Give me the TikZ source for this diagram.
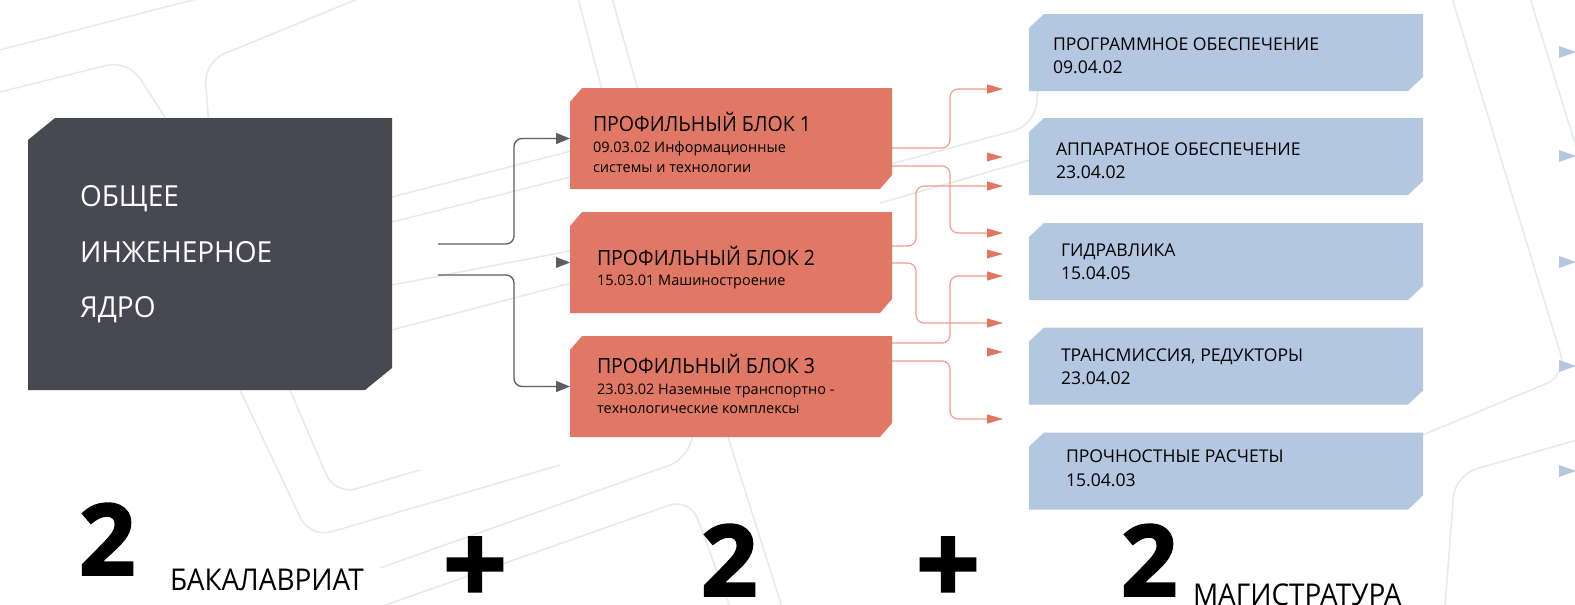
\documentclass[tikz,border=0pt]{standalone}
\usepackage{fontspec}
\setmainfont{Open Sans}
\newfontfamily\narrowfont[FakeStretch=0.93]{Open Sans}
\newfontfamily\corefont[FakeStretch=0.965]{Open Sans}
\newfontfamily\heavyfont[BoldFeatures={FakeBold=2}]{Open Sans}
\usetikzlibrary{arrows.meta}
\definecolor{darkbox}{HTML}{484852}
\definecolor{redbox}{HTML}{E07865}
\definecolor{bluebox}{HTML}{B4C7E1}
\definecolor{darkline}{HTML}{5C5D68}
\definecolor{redline}{HTML}{EE9E8C}
\definecolor{redtip}{HTML}{E27660}
\definecolor{bgline}{HTML}{E6E9ED}
\newcommand\chamferfill[4]{%
  \fill[#2] ([yshift=-#4pt]#1.north west) -- ([xshift=#3pt]#1.north west) -- (#1.north east)
    -- ([yshift=#4pt]#1.south east) -- ([xshift=-#3pt]#1.south east) -- (#1.south west) -- cycle;}
\begin{document}
\begin{tikzpicture}[x=1pt,y=-1pt,
  area/.style={rectangle,draw=none,fill=none,inner sep=0pt,outer sep=0pt},
  txt/.style={anchor=base west,inner sep=0pt,outer sep=0pt},
  coretxt/.style={txt,text=white,font=\corefont\fontsize{29}{29}\selectfont},
  redtitle/.style={txt,font=\narrowfont\fontsize{21}{21}\selectfont},
  redsub/.style={txt,font=\fontsize{14.5}{14.5}\selectfont},
  bluetxt/.style={txt,font=\fontsize{17.6}{17.6}\selectfont},
  bignum/.style={txt,font=\heavyfont\bfseries\fontsize{99}{99}\selectfont},
  bigplus/.style={txt,font=\heavyfont\bfseries\fontsize{112}{112}\selectfont},
  levtxt/.style={txt,font=\narrowfont\fontsize{30}{30}\selectfont},
  darkconn/.style={draw=darkline,line width=1.3pt,rounded corners=8pt,-{Triangle[length=14pt,width=11pt]}},
  redconn/.style={draw=redline,line width=1.2pt,rounded corners=8pt,-{Triangle[length=16pt,width=9pt,color=redtip]}},
  bgstroke/.style={draw=bgline,line width=1.5pt,rounded corners=22pt}
]
\useasboundingbox (0,0) rectangle (1575,605);
\fill[white] (0,0) rectangle (1575,605);
% background pattern
\path[bgstroke] (0,50) -- (200,-2);
\path[bgstroke] (0,92) -- (128,60) -- (170,125);
\path[bgstroke] (209,125) -- (204,62) -- (360,-2);
\path[bgstroke] (578,-2) -- (602,90);
\path[bgstroke] (612,-2) -- (638,90);
\path[bgstroke] (392,197) -- (575,150);
\path[bgstroke] (392,222) -- (575,176);
\path[bgstroke] (392,285) -- (575,250);
\path[bgstroke] (392,330) -- (575,282);
\path[bgstroke] (880,167) -- (1035,125) -- (1040,60);
\path[bgstroke] (880,203) -- (1030,160);
\path[bgstroke] (240,390) -- (310,538) -- (560,465);
\path[bgstroke] (290,390) -- (335,495) -- (420,470);
\path[bgstroke] (692,437) -- (690,458) -- (380,568);
\path[bgstroke] (380,607) -- (690,498) -- (730,607);
\path[bgstroke] (728,437) -- (782,607);
\path[bgstroke] (1452,-2) -- (1567,375) -- (1420,436);
\path[bgstroke] (1530,-2) -- (1577,150);
\path[bgstroke] (1577,440) -- (1455,475) -- (1445,607);
% box areas
\node[area,minimum width=364pt,minimum height=272pt] (core) at (210,254) {};
\node[area,minimum width=322pt,minimum height=101pt] (b1) at (731,138.5) {};
\node[area,minimum width=322pt,minimum height=101pt] (b2) at (731,262.5) {};
\node[area,minimum width=322pt,minimum height=101pt] (b3) at (731,386.5) {};
\node[area,minimum width=394pt,minimum height=77pt] (p1) at (1226,52.5) {};
\node[area,minimum width=394pt,minimum height=77pt] (p2) at (1226,156.5) {};
\node[area,minimum width=394pt,minimum height=77pt] (p3) at (1226,261.5) {};
\node[area,minimum width=394pt,minimum height=77pt] (p4) at (1226,366) {};
\node[area,minimum width=394pt,minimum height=77pt] (p5) at (1226,471) {};
\chamferfill{core}{darkbox}{27}{22}
\chamferfill{b1}{redbox}{12}{14}
\chamferfill{b2}{redbox}{12}{14}
\chamferfill{b3}{redbox}{12}{14}
\chamferfill{p1}{bluebox}{15}{14}
\chamferfill{p2}{bluebox}{15}{14}
\chamferfill{p3}{bluebox}{15}{14}
\chamferfill{p4}{bluebox}{15}{14}
\chamferfill{p5}{bluebox}{15}{14}
% dark connectors
\coordinate (d1) at (438,244);
\coordinate (d2) at (438,275);
\draw[darkconn] (d1) -| ([xshift=-56pt]b1.west) -- (b1.west);
\draw[darkconn] (d2) -| ([xshift=-56pt]b3.west) -- (b3.west);
\fill[darkline] (b2.west) -- ++(-14,-5.5) -- ++(0,11) -- cycle;
% red connectors
\coordinate (t1) at (1003,89);
\coordinate (t2) at (1003,157);
\coordinate (t3) at (1003,186);
\coordinate (t4) at (1003,233);
\coordinate (t5) at (1003,254);
\coordinate (t6) at (1003,276);
\coordinate (t7) at (1003,323);
\coordinate (t8) at (1003,352);
\coordinate (t9) at (1003,419);
\draw[redconn] ([yshift=-60pt]b1.north east) -| ([xshift=-53pt]t1) -- (t1);
\draw[redconn] ([yshift=-78pt]b1.north east) -| ([xshift=-53pt]t4) -- (t4);
\draw[redconn] ([yshift=-34pt]b2.north east) -| ([xshift=-87pt]t3) -- (t3);
\draw[redconn] ([yshift=-51pt]b2.north east) -| ([xshift=-87pt]t7) -- (t7);
\draw[redconn] ([yshift=-7pt]b3.north east) -| ([xshift=-53pt]t6) -- (t6);
\draw[redconn] ([yshift=-25pt]b3.north east) -| ([xshift=-53pt]t9) -- (t9);
\foreach \t in {t2,t5,t8}{\fill[redtip] (\t) -- ++(-16,-4.5) -- ++(0,9) -- cycle;}
% right-edge blue tips
\foreach \yy [count=\i] in {52,156,262,366,471}{
  \coordinate (r\i) at (1576,\yy);
  \fill[bluebox] (r\i) -- ++(-17,-6) -- ++(0,12) -- cycle;}
% texts
\node[coretxt] (c1) at (80,206) {ОБЩЕЕ};
\node[coretxt] (c2) at (80,262) {ИНЖЕНЕРНОЕ};
\node[coretxt] (c3) at (80,317) {ЯДРО};
\node[redtitle] (b1t) at (593,131) {ПРОФИЛЬНЫЙ БЛОК 1};
\node[redsub] (b1s1) at (593,152) {09.03.02 Информационные};
\node[redsub] (b1s2) at (593,172) {системы и технологии};
\node[redtitle] (b2t) at (597,265) {ПРОФИЛЬНЫЙ БЛОК 2};
\node[redsub] (b2s1) at (597,285) {15.03.01 Машиностроение};
\node[redtitle] (b3t) at (597,373) {ПРОФИЛЬНЫЙ БЛОК 3};
\node[redsub] (b3s1) at (597,394) {23.03.02 Наземные транспортно -};
\node[redsub] (b3s2) at (597,413) {технологические комплексы};
\node[bluetxt] (p1a) at (1053,50) {ПРОГРАММНОЕ ОБЕСПЕЧЕНИЕ};
\node[bluetxt] (p1b) at (1053,73) {09.04.02};
\node[bluetxt] (p2a) at (1056,155) {АППАРАТНОЕ ОБЕСПЕЧЕНИЕ};
\node[bluetxt] (p2b) at (1056,178) {23.04.02};
\node[bluetxt] (p3a) at (1061,256) {ГИДРАВЛИКА};
\node[bluetxt] (p3b) at (1061,279) {15.04.05};
\node[bluetxt] (p4a) at (1061,361) {ТРАНСМИССИЯ, РЕДУКТОРЫ};
\node[bluetxt] (p4b) at (1061,384) {23.04.02};
\node[bluetxt] (p5a) at (1066,462) {ПРОЧНОСТНЫЕ РАСЧЕТЫ};
\node[bluetxt] (p5b) at (1066,486) {15.04.03};
\node[bignum] (n1) at (79,575) {2};
\node[levtxt] (l1) at (170,590) {БАКАЛАВРИАТ};
\node[bigplus] (s1) at (443,604) {+};
\node[bignum] (n2) at (701,596) {2};
\node[bigplus] (s2) at (916,604) {+};
\node[bignum] (n3) at (1121,596) {2};
\node[levtxt] (l2) at (1193,605) {МАГИСТРАТУРА};
\end{tikzpicture}
\end{document}
